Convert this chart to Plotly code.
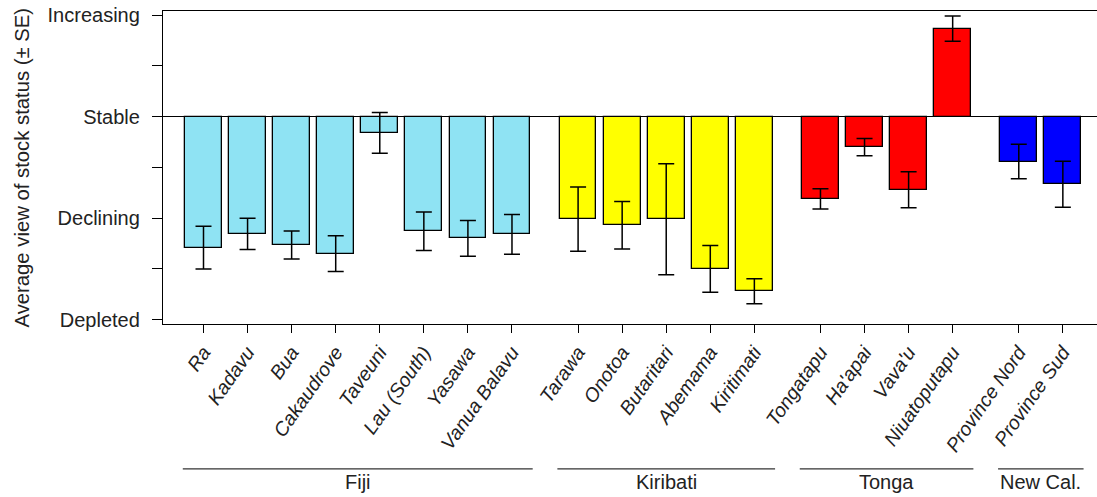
import plotly.graph_objects as go

# ---- data ----
groups = ["Fiji", "Kiribati", "Tonga", "New Cal."]
group_colors = ["#8FE3F3", "#FFFF00", "#FF0000", "#0000FF"]

fiji_sites = ["Ra", "Kadavu", "Bua", "Cakaudrove", "Taveuni", "Lau (South)", "Yasawa", "Vanua Balavu"]
fiji_mean = [-1.29, -1.155, -1.265, -1.35, -0.16, -1.13, -1.20, -1.16]
fiji_se = [0.21, 0.153, 0.138, 0.176, 0.20, 0.19, 0.176, 0.195]

kiribati_sites = ["Tarawa", "Onotoa", "Butaritari", "Abemama", "Kiritimati"]
kiribati_mean = [-1.01, -1.07, -1.01, -1.50, -1.72]
kiribati_se = [0.317, 0.233, 0.547, 0.23, 0.123]

tonga_sites = ["Tongatapu", "Ha'apai", "Vava'u", "Niuatoputapu"]
tonga_mean = [-0.81, -0.30, -0.72, 0.867]
tonga_se = [0.099, 0.084, 0.177, 0.125]

newcal_sites = ["Province Nord", "Province Sud"]
newcal_mean = [-0.443, -0.666]
newcal_se = [0.17, 0.227]

status_vals = [-2, -1.5, -1, -0.5, 0, 0.5, 1]
status_text = ["Depleted", "", "Declining", "", "Stable", "", "Increasing"]
y_title = "Average view of stock status (\u00b1 SE)"

# ---- layout helpers ----
GROUP_GAP = 0.5          # extra space between groups (in bar periods)
BAR_WIDTH = 1 / 1.2
X_MIN, X_MAX = -0.919, 20.275
Y_MIN, Y_MAX = -2.043, 1.041
FONT = "Arial, Liberation Sans, sans-serif"
TXT = "#222222"

all_sites = [fiji_sites, kiribati_sites, tonga_sites, newcal_sites]
all_means = [fiji_mean, kiribati_mean, tonga_mean, newcal_mean]
all_se = [fiji_se, kiribati_se, tonga_se, newcal_se]

xs, names, means, ses, colors, spans = [], [], [], [], [], []
pos = 0.0
for gi, sites in enumerate(all_sites):
    start = pos
    for si, s in enumerate(sites):
        xs.append(pos)
        names.append(s)
        means.append(all_means[gi][si])
        ses.append(all_se[gi][si])
        colors.append(group_colors[gi])
        pos += 1
    spans.append((start, pos - 1))
    pos += GROUP_GAP

fig = go.Figure()
fig.add_trace(go.Bar(
    x=xs, y=means, width=BAR_WIDTH,
    marker=dict(color=colors, line=dict(color="black", width=1.3)),
    error_y=dict(type="data", array=ses, visible=True, color="black",
                 thickness=1.5, width=8),
    showlegend=False,
))

def px(v):
    return (v - X_MIN) / (X_MAX - X_MIN)

shapes = []
annotations = []
for (a, b), g in zip(spans, groups):
    shapes.append(dict(type="line", xref="paper", yref="paper",
                       x0=px(a - 0.47), x1=px(b + 0.47), y0=-0.463, y1=-0.463,
                       line=dict(color="#333333", width=1.2)))
    annotations.append(dict(text=g, xref="paper", yref="paper",
                            x=px((a + b) / 2), y=-0.505, showarrow=False,
                            xanchor="center", yanchor="middle",
                            font=dict(family=FONT, size=20, color=TXT)))

annotations.append(dict(text=y_title, xref="paper", yref="paper",
                        x=-0.152, y=0.50, textangle=-90, showarrow=False,
                        xanchor="center", yanchor="middle",
                        font=dict(family=FONT, size=20.3, color=TXT)))

fig.update_layout(
    width=1097, height=497,
    margin=dict(l=163, r=0, t=11, b=173, autoexpand=False),
    paper_bgcolor="white", plot_bgcolor="white",
    font=dict(family=FONT, size=20, color=TXT),
    bargap=0,
    shapes=shapes,
    annotations=annotations,
    xaxis=dict(
        range=[X_MIN, X_MAX], tickvals=xs,
        ticktext=["<i>" + n + "</i>" for n in names],
        tickangle=-55, ticks="outside", ticklen=8, tickwidth=1.2, tickcolor="black",
        showline=True, linecolor="black", linewidth=1.3, mirror=True,
        showgrid=False, zeroline=False,
        tickfont=dict(family=FONT, size=19.5, color=TXT),
    ),
    yaxis=dict(
        range=[Y_MIN, Y_MAX], tickvals=status_vals, ticktext=status_text,
        ticks="outside", ticklen=10, tickwidth=1.2, tickcolor="black",
        showline=True, linecolor="black", linewidth=1.3,
        showgrid=False, zeroline=True, zerolinecolor="black", zerolinewidth=1.3,
        ticklabelstandoff=8, ticklabeloverflow="allow",
        tickfont=dict(family=FONT, size=20, color=TXT),
    ),
)

# remove the default 8px page margin so the figure fills the window exactly
fig.write_html("out.html", config={"displayModeBar": False},
               post_script="document.body.style.margin='0';")
